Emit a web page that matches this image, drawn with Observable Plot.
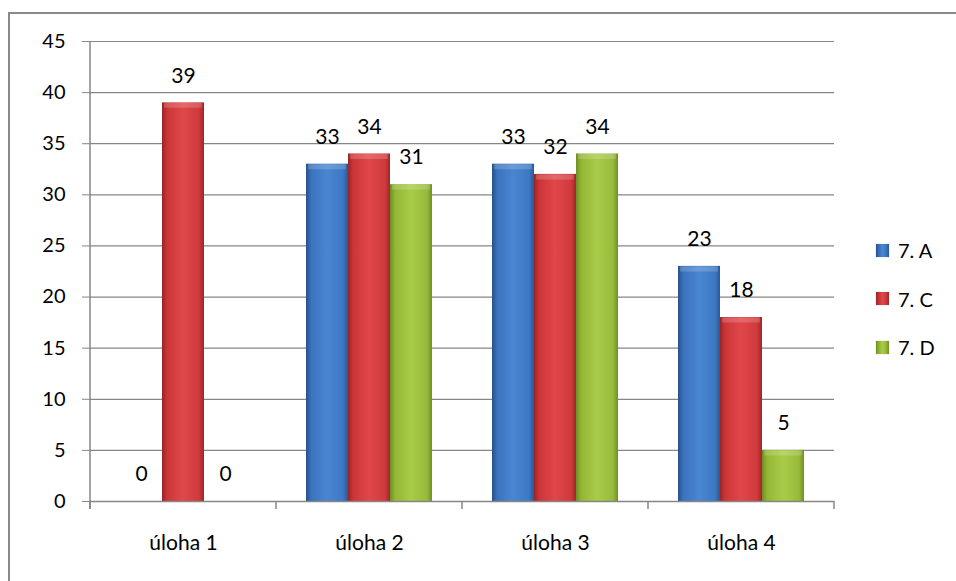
<!DOCTYPE html>
<html>
<head>
<meta charset="utf-8">
<script src="https://cdn.jsdelivr.net/npm/d3@7"></script>
<script src="https://cdn.jsdelivr.net/npm/@observablehq/plot@0.6"></script>
<style>
  html, body { margin: 0; padding: 0; background: #fff; }
  #wrap { position: relative; width: 956px; height: 581px; overflow: hidden; font-family: Lato, "Open Sans", sans-serif; font-weight: 400; }
  #border { position: absolute; left: 8px; top: 12px; right: -10px; bottom: -10px; border-left: 2px solid #8a8a8a; border-top: 2px solid #8a8a8a; }
  #chart { position: absolute; left: 0; top: 0; }
  #legend { position: absolute; left: 876px; top: 239px; font-size: 20px; color: #000; }
  .row { display: flex; align-items: center; height: 22px; margin-bottom: 26.5px; }
  .sw { width: 13px; height: 13px; margin-right: 9px; box-shadow: 0 0 1px rgba(0,0,0,0.3); }
</style>
</head>
<body>
<div id="wrap">
  <div id="border"></div>
  <div id="chart"></div>
  <div id="legend"></div>
</div>
<script>
const categories = ["úloha 1", "úloha 2", "úloha 3", "úloha 4"];
const series = ["7. A", "7. C", "7. D"];
const values7A = [0, 33, 33, 23];
const values7C = [39, 34, 32, 18];
const values7D = [0, 31, 34, 5];
const yTicks = [0, 5, 10, 15, 20, 25, 30, 35, 40, 45];

const seriesValues = [values7A, values7C, values7D];
const data = [];
categories.forEach((c, i) => {
  series.forEach((s, j) => data.push({cat: c, series: s, value: seriesValues[j][i]}));
});

const gradIds = ["gA", "gC", "gD"];
const gradStops = [
  ["#26508a", "#3a72bd", "#4a86d2", "#3d78c4", "#2a5896"],
  ["#962426", "#cc3537", "#e0474a", "#d03a3c", "#9e2628"],
  ["#6f8d22", "#93b634", "#a8cc48", "#98ba3a", "#728f24"]
];

const plot = Plot.plot({
  width: 956,
  height: 581,
  marginLeft: 89,
  marginRight: 121,
  marginTop: 41,
  marginBottom: 80,
  style: {fontFamily: "Lato, 'Open Sans', sans-serif", fontSize: "20px", fontWeight: 400, color: "#000", background: "transparent"},
  fx: {domain: categories, padding: 0, label: null},
  x: {domain: series, axis: null, paddingInner: 0, paddingOuter: 0.714},
  y: {domain: [0, 45], label: null},
  color: {domain: series, range: gradIds.map(id => `url(#${id})`)},
  marks: [
    Plot.ruleY(yTicks.filter(t => t > 0), {stroke: "#868686", strokeWidth: 1.2}),
    Plot.barY(data, {fx: "cat", x: "series", y: "value", fill: "series"}),
    Plot.tickY(data.filter(d => d.value > 0), {fx: "cat", x: "series", y: "value", stroke: "#ffffff", strokeOpacity: 0.18, strokeWidth: 5, dy: 2.5, insetLeft: 2, insetRight: 2}),
    Plot.ruleY([0], {stroke: "#868686", strokeWidth: 1.5}),
    Plot.text(data, {fx: "cat", x: "series", y: "value", text: d => String(d.value), dy: -27, fill: "#000", fontSize: 21, fontWeight: 400}),
    Plot.axisY(yTicks, {anchor: "left", tickSize: 8, tickPadding: 17, stroke: "#868686", fill: "#000", fontSize: 20, fontWeight: 400, label: null}),
    Plot.axisFx({anchor: "bottom", tickSize: 0, tickPadding: 34, fill: "#000", fontSize: 21, fontWeight: 400, label: null})
  ]
});

const svg = d3.select(plot);
// gradients
const defs = svg.insert("defs", ":first-child");
gradIds.forEach((id, k) => {
  const g = defs.append("linearGradient").attr("id", id).attr("x1", "0").attr("x2", "1").attr("y1", "0").attr("y2", "0");
  [0, 0.12, 0.5, 0.88, 1].forEach((o, i) => g.append("stop").attr("offset", o).attr("stop-color", gradStops[k][i]));
});

// axis lines and category boundary ticks using Plot's scales
const fxs = plot.scale("fx");
const ys = plot.scale("y");
const y0 = ys.apply(0), yTop = ys.apply(45);
const left = fxs.apply(categories[0]);
const bounds = categories.map(c => fxs.apply(c));
bounds.push(fxs.apply(categories[categories.length - 1]) + fxs.bandwidth);
const g = svg.append("g").attr("stroke", "#868686").attr("stroke-width", 1.5);
g.append("line").attr("x1", left).attr("x2", left).attr("y1", yTop).attr("y2", y0 + 8);
bounds.forEach(b => g.append("line").attr("x1", b).attr("x2", b).attr("y1", y0).attr("y2", y0 + 8));

document.getElementById("chart").appendChild(plot);

// legend
const legend = d3.select("#legend");
series.forEach((s, k) => {
  const row = legend.append("div").attr("class", "row");
  row.append("div").attr("class", "sw")
    .style("background", `linear-gradient(to right, ${gradStops[k].join(", ")})`);
  row.append("span").text(s);
});
</script>
</body>
</html>
